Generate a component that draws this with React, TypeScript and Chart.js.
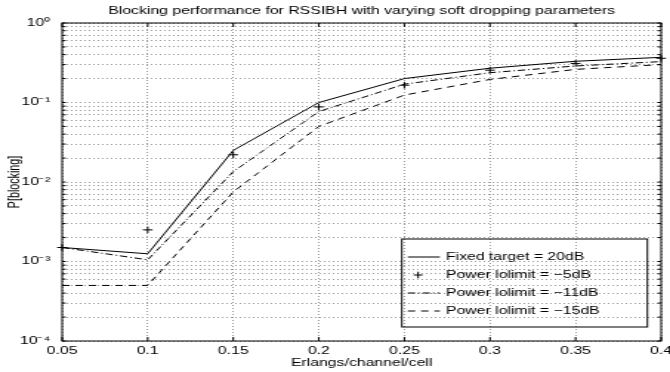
import React, { useEffect, useRef } from "react";
import { Chart, registerables } from "chart.js";

Chart.register(...registerables);

// ---- data ----
const titleText = "Blocking performance for RSSIBH with varying soft dropping parameters";
const xLabel = "Erlangs/channel/cell";
const yLabel = "P[blocking]";

const erlangs = [0.05, 0.1, 0.15, 0.2, 0.25, 0.3, 0.35, 0.4];
const fixedTarget20 = [1.5e-3, 1.25e-3, 0.025, 0.1, 0.2, 0.27, 0.33, 0.37];
const lolimitMinus5 = [1.5e-3, 2.5e-3, 0.022, 0.088, 0.165, 0.255, 0.31, 0.36];
const lolimitMinus11 = [1.5e-3, 1.05e-3, 0.0135, 0.077, 0.17, 0.237, 0.288, 0.327];
const lolimitMinus15 = [5e-4, 5e-4, 0.0075, 0.05, 0.124, 0.195, 0.261, 0.3];

const seriesLabels = [
  "Fixed target = 20dB",
  "Power lolimit = \u22125dB",
  "Power lolimit = \u221211dB",
  "Power lolimit = \u221215dB",
];

const xTickValues = [0.05, 0.1, 0.15, 0.2, 0.25, 0.3, 0.35, 0.4];
const xTickLabels = ["0.05", "0.1", "0.15", "0.2", "0.25", "0.3", "0.35", "0.4"];
const yDecades = [1e-4, 1e-3, 1e-2, 1e-1, 1];
const yTickLabels = ["10\u207B\u2074", "10\u207B\u00B3", "10\u207B\u00B2", "10\u207B\u00B9", "10\u2070"];
const yMinorMultipliers = [1, 2, 3, 4, 5, 6, 7, 8, 9];

// ---- layout (internal canvas is horizontally stretched to the page width) ----
const PAGE_W = 670;
const PAGE_H = 372;
const W = 453;
const H = 372;
const FONT = "'Liberation Sans', Arial, Helvetica, sans-serif";
const FS = 10.7;
const GRID = "#9a9a9a";

const yGridValues: number[] = [];
yDecades.slice(0, -1).forEach((d) => yMinorMultipliers.forEach((m) => yGridValues.push(d * m)));
yGridValues.push(yDecades[yDecades.length - 1]);

const toPts = (ys: number[]) => erlangs.map((x, i) => ({ x, y: ys[i] }));

const framePlugin = {
  id: "matlabFrame",
  beforeDraw(chart: any) {
    const ctx = chart.ctx;
    ctx.save();
    ctx.fillStyle = "#fff";
    ctx.fillRect(0, 0, chart.width, chart.height);
    ctx.restore();
  },
  afterDraw(chart: any) {
    const ctx = chart.ctx;
    const a = chart.chartArea;
    const xs = chart.scales.x;
    const ys = chart.scales.y;
    ctx.save();
    ctx.strokeStyle = "#000";
    ctx.lineWidth = 1;
    ctx.setLineDash([]);
    ctx.strokeRect(a.left, a.top, a.right - a.left, a.bottom - a.top);
    // inward tick marks
    ctx.beginPath();
    ys.ticks.forEach((t: any) => {
      const p = ys.getPixelForValue(t.value);
      ctx.moveTo(a.left, p);
      ctx.lineTo(a.left + 2.4, p);
      ctx.moveTo(a.right, p);
      ctx.lineTo(a.right - 2.4, p);
    });
    xs.ticks.forEach((t: any) => {
      const p = xs.getPixelForValue(t.value);
      ctx.moveTo(p, a.bottom);
      ctx.lineTo(p, a.bottom - 4);
      ctx.moveTo(p, a.top);
      ctx.lineTo(p, a.top + 4);
    });
    ctx.stroke();

    // legend
    const bw = 166;
    const bh = 88;
    const bx = a.right - 9.3 - bw;
    const by = a.bottom - 14 - bh;
    ctx.strokeRect(bx, by, bw, bh);
    ctx.font = `${FS}px ${FONT}`;
    ctx.fillStyle = "#000";
    ctx.textBaseline = "middle";
    ctx.textAlign = "left";
    chart.data.datasets.forEach((ds: any, i: number) => {
      const yy = by + 18 + i * 18;
      ctx.strokeStyle = ds.borderColor;
      ctx.lineWidth = 1;
      if (ds.showLine === false) {
        ctx.setLineDash([]);
        ctx.beginPath();
        ctx.moveTo(bx + 11 - 3, yy);
        ctx.lineTo(bx + 11 + 3, yy);
        ctx.moveTo(bx + 11, yy - 3.3);
        ctx.lineTo(bx + 11, yy + 3.3);
        ctx.stroke();
      } else {
        ctx.setLineDash(ds.borderDash || []);
        ctx.beginPath();
        ctx.moveTo(bx + 4, yy);
        ctx.lineTo(bx + 25.7, yy);
        ctx.stroke();
      }
      ctx.setLineDash([]);
      ctx.fillText(ds.label, bx + 29.8, yy);
    });
    ctx.restore();
  },
};

export default function App() {
  const ref = useRef<HTMLCanvasElement>(null);
  useEffect(() => {
    document.body.style.margin = "0";
    const font = { family: FONT, size: FS, weight: "normal" as const };
    const chart = new Chart(ref.current as HTMLCanvasElement, {
      type: "line",
      data: {
        datasets: [
          {
            label: seriesLabels[0],
            data: toPts(fixedTarget20),
            borderColor: "#000",
            borderWidth: 1,
            pointRadius: 0,
            fill: false,
          },
          {
            label: seriesLabels[1],
            data: toPts(lolimitMinus5),
            borderColor: "#000",
            borderWidth: 1,
            showLine: false,
            pointStyle: "cross",
            pointRadius: 3.3,
            pointBorderWidth: 1,
            pointBorderColor: "#000",
            clip: false as any,
          },
          {
            label: seriesLabels[2],
            data: toPts(lolimitMinus11),
            borderColor: "#000",
            borderWidth: 1,
            borderDash: [5, 2, 1, 2],
            pointRadius: 0,
            fill: false,
          },
          {
            label: seriesLabels[3],
            data: toPts(lolimitMinus15),
            borderColor: "#000",
            borderWidth: 1,
            borderDash: [5, 4],
            pointRadius: 0,
            fill: false,
          },
        ] as any,
      },
      options: {
        responsive: false,
        devicePixelRatio: 1,
        animation: false,
        parsing: true,
        layout: { padding: { left: 0, right: 6, top: 0, bottom: 0 } },
        plugins: {
          legend: { display: false },
          tooltip: { enabled: false },
          title: {
            display: true,
            text: titleText,
            color: "#000",
            font,
            padding: { top: 5, bottom: 5.16 },
            fullSize: false,
          } as any,
        },
        scales: {
          x: {
            type: "linear",
            min: 0.05,
            max: 0.4,
            afterBuildTicks: (s: any) => {
              s.ticks = xTickValues.map((v) => ({ value: v }));
            },
            ticks: {
              autoSkip: false,
              maxRotation: 0,
              padding: 4,
              color: "#000",
              font,
              callback: (_v: any, i: number) => xTickLabels[i],
            },
            grid: { color: GRID, lineWidth: 1, drawTicks: false },
            border: { display: false, dash: [1, 2] },
            title: {
              display: true,
              text: xLabel,
              color: "#000",
              font,
              padding: { top: 0, bottom: 2.6 },
            },
            afterFit: (s: any) => {
              s.height = 31;
              s.paddingLeft = 0;
              s.paddingRight = 0;
            },
          } as any,
          y: {
            type: "logarithmic",
            min: 1e-4,
            max: 1,
            afterBuildTicks: (s: any) => {
              s.ticks = yGridValues.map((v) => ({ value: v }));
            },
            ticks: {
              autoSkip: false,
              padding: 8,
              color: "#000",
              font,
              callback: (v: any) => {
                const idx = yDecades.findIndex((d) => Math.abs(Number(v) - d) / d < 1e-6);
                return idx >= 0 ? yTickLabels[idx] : "";
              },
            },
            grid: { color: GRID, lineWidth: 1, drawTicks: false },
            border: { display: false, dash: [1, 2] },
            title: {
              display: true,
              text: yLabel,
              color: "#000",
              font,
              padding: { top: 3.7, bottom: 0 },
            },
            afterFit: (s: any) => {
              s.width = 42;
              s.paddingTop = 0;
              s.paddingBottom = 0;
            },
          } as any,
        },
      },
      plugins: [framePlugin],
    });
    return () => chart.destroy();
  }, []);

  return (
    <div style={{ position: "fixed", left: 0, top: 0, width: PAGE_W, height: PAGE_H, background: "#fff" }}>
      <canvas
        ref={ref}
        width={W}
        height={H}
        style={{ width: `${PAGE_W}px`, height: `${PAGE_H}px`, display: "block" }}
      />
    </div>
  );
}
